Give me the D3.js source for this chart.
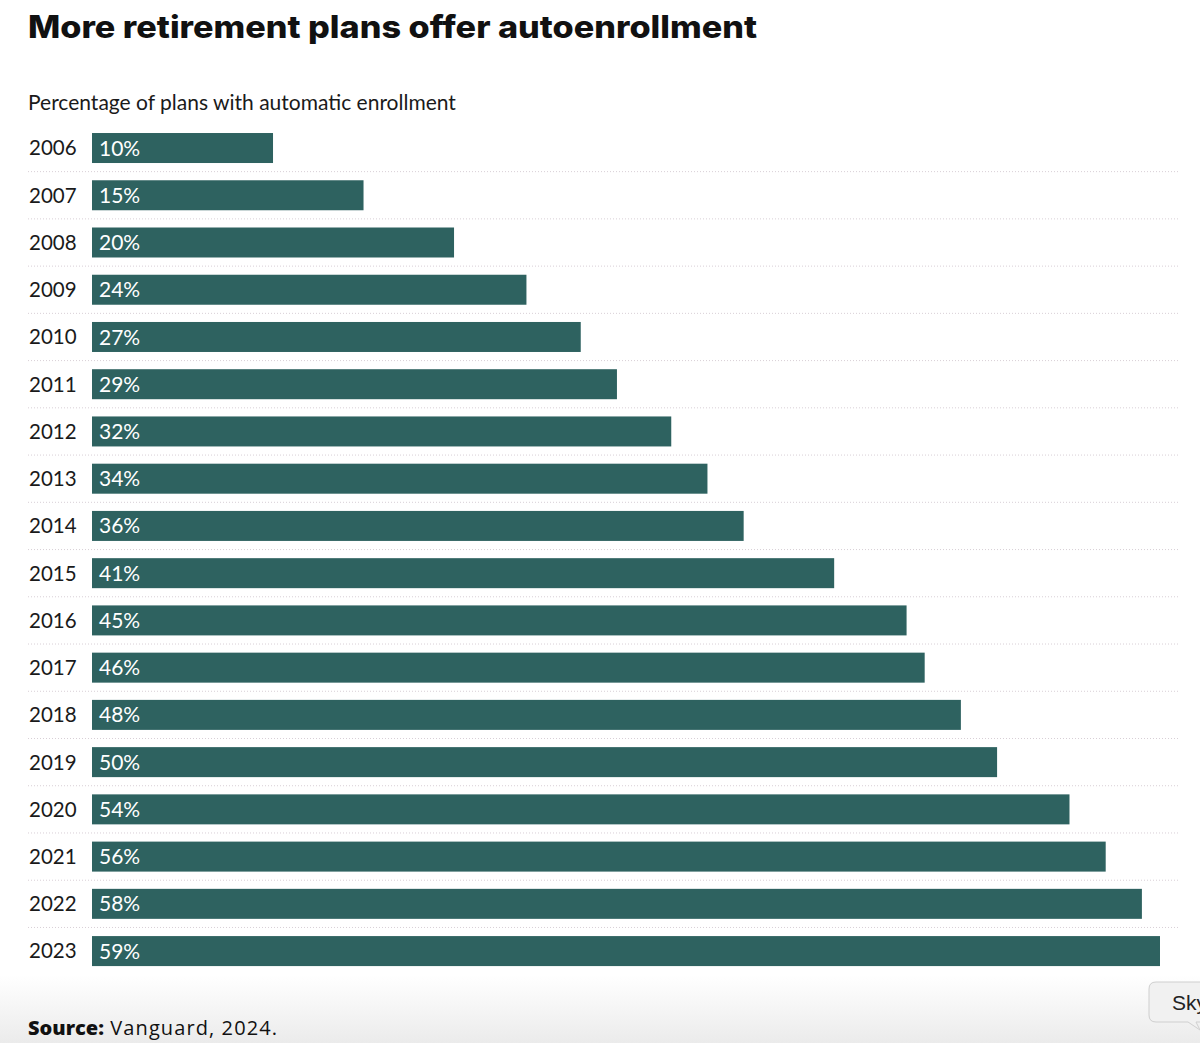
<!DOCTYPE html>
<html>
<head>
<meta charset="utf-8">
<script src="https://cdn.jsdelivr.net/npm/d3@7"></script>
<style>
  html, body { margin: 0; padding: 0; background: #fff; }
  svg { display: block; }
</style>
</head>
<body>
<div id="chart"></div>
<script>
// chart data
const years = ['2006', '2007', '2008', '2009', '2010', '2011', '2012', '2013', '2014',
  '2015', '2016', '2017', '2018', '2019', '2020', '2021', '2022', '2023'];
const shares = [10, 15, 20, 24, 27, 29, 32, 34, 36, 41, 45, 46, 48, 50, 54, 56, 58, 59];

const title = 'More retirement plans offer autoenrollment';
const subtitle = 'Percentage of plans with automatic enrollment';

const width = 1200, height = 1043;
const font = 'Lato, "Noto Sans", sans-serif';
const wideFont = '"Open Sans", "Noto Sans", sans-serif';

const svg = d3.select('#chart')
  .append('svg')
  .attr('width', width)
  .attr('height', height);

// soft grey fade at the bottom of the screenshot
const defs = svg.append('defs');
const grad = defs.append('linearGradient')
  .attr('id', 'fade')
  .attr('x1', 0).attr('y1', 0).attr('x2', 0).attr('y2', 1);
grad.append('stop').attr('offset', '0%').attr('stop-color', '#ffffff');
grad.append('stop').attr('offset', '100%').attr('stop-color', '#ebebeb');

svg.append('rect')
  .attr('x', 0).attr('y', 975)
  .attr('width', width).attr('height', height - 975)
  .attr('fill', 'url(#fade)');

svg.append('text')
  .attr('x', 28).attr('y', 38)
  .attr('font-family', 'Inter, ' + font)
  .attr('font-weight', 800)
  .attr('font-size', 31)
  .attr('fill', '#111')
  .attr('textLength', 729)
  .attr('lengthAdjust', 'spacingAndGlyphs')
  .text(title);

svg.append('text')
  .attr('x', 28).attr('y', 110)
  .attr('font-family', font)
  .attr('font-size', 21)
  .attr('fill', '#1a1a1a')
  .text(subtitle);

const x = d3.scaleLinear()
  .domain([0, 59])
  .range([92, 1160]);

const y = d3.scaleBand()
  .domain(years)
  .range([124.4, 974.7])
  .paddingInner(0.365)
  .paddingOuter(0.1825);

const step = y.step();

// dotted separators between rows
svg.append('g')
  .selectAll('line')
  .data(years.slice(1))
  .join('line')
  .attr('x1', 28)
  .attr('x2', 1179)
  .attr('y1', d => y(d) - step * 0.1825)
  .attr('y2', d => y(d) - step * 0.1825)
  .attr('stroke', '#d8cfd6')
  .attr('stroke-width', 1)
  .attr('stroke-dasharray', '1,2');

const rows = svg.append('g')
  .selectAll('g')
  .data(years.map((yr, i) => ({ yr, v: shares[i] })))
  .join('g');

rows.append('rect')
  .attr('x', x(0))
  .attr('y', d => y(d.yr))
  .attr('width', d => x(d.v) - x(0))
  .attr('height', y.bandwidth())
  .attr('fill', '#2e6260');

rows.append('text')
  .attr('x', 29)
  .attr('y', d => y(d.yr) + y.bandwidth() / 2)
  .attr('dy', '0.36em')
  .attr('font-family', font)
  .attr('font-size', 20.5)
  .attr('fill', '#1a1a1a')
  .text(d => d.yr);

rows.append('text')
  .attr('x', 99)
  .attr('y', d => y(d.yr) + y.bandwidth() / 2)
  .attr('dy', '0.36em')
  .attr('font-family', font)
  .attr('font-size', 21)
  .attr('fill', '#fff')
  .text(d => d.v + '%');

const source = svg.append('text')
  .attr('x', 28).attr('y', 1035)
  .attr('font-family', wideFont)
  .attr('font-size', 20)
  .attr('fill', '#111');
source.append('tspan').attr('font-weight', 800).text('Source:');
source.append('tspan').attr('letter-spacing', 1.1).text(' Vanguard, 2024.');

// partly hidden tooltip at the lower right edge
const tip = svg.append('g');
tip.append('path')
  .attr('d', 'M1156,982 H1206 V1022 H1196 L1200,1030 L1188,1022 H1156 Q1149,1022 1149,1015 V989 Q1149,982 1156,982 Z')
  .attr('fill', '#f1f1f1')
  .attr('stroke', '#cfcfcf');
tip.append('text')
  .attr('x', 1172).attr('y', 1010)
  .attr('font-family', '"Liberation Sans", Arial, sans-serif')
  .attr('font-size', 21)
  .attr('fill', '#222')
  .text('Sky');
</script>
</body>
</html>
